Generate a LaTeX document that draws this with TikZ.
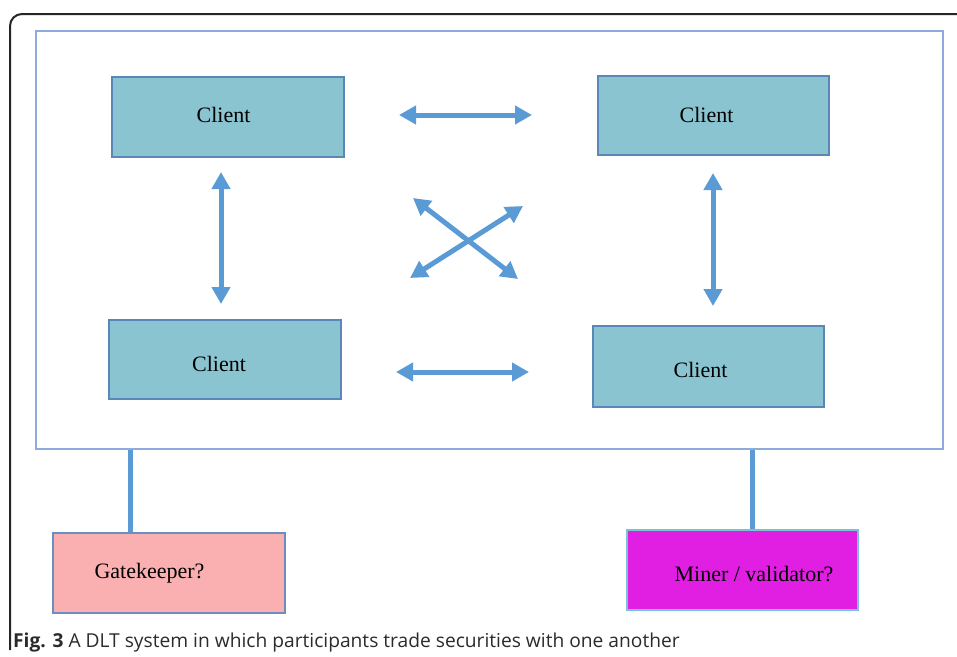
\documentclass[tikz,border=0pt]{standalone}
\usepackage{fontspec}
\setmainfont{Liberation Serif}
\newfontfamily\capfont{Open Sans}
\usetikzlibrary{arrows.meta}
\definecolor{clientfill}{HTML}{8AC4D1}
\definecolor{clientborder}{HTML}{5B87B8}
\definecolor{arrowblue}{HTML}{5B9BD5}
\definecolor{frameblue}{HTML}{8FAADC}
\definecolor{gkfill}{HTML}{FAB0B0}
\definecolor{gkborder}{HTML}{6C8EBF}
\definecolor{minerfill}{HTML}{E11FE3}
\definecolor{minerborder}{HTML}{7AC3D6}
\definecolor{captext}{HTML}{2B2B2B}
\tikzset{
  box/.style={rectangle, inner sep=0pt, line width=1.2pt},
  clientbox/.style={box, draw=clientborder, fill=clientfill, minimum width=232pt, minimum height=80pt},
  gkbox/.style={box, draw=gkborder, fill=gkfill, minimum width=232pt, minimum height=80pt},
  minerbox/.style={box, draw=minerborder, fill=minerfill, minimum width=231pt, minimum height=80pt},
  lbl/.style={inner sep=0pt, font=\fontsize{22}{26}\selectfont},
  dblarrow/.style={line width=5pt, draw=arrowblue,
    {Triangle[length=17pt,width=18pt]}-{Triangle[length=17pt,width=18pt]}},
  link/.style={line width=5pt, draw=arrowblue},
}
\begin{document}
\begin{tikzpicture}[x=1pt,y=-1pt]
\useasboundingbox (0,0) rectangle (957,656);
% outer frame
\draw[line width=2pt, draw=black!85, rounded corners=12pt] (10,650) -- (10,14) -- (957,14);
% system frame
\node[draw=frameblue, line width=1.3pt, rectangle, inner sep=0pt, minimum width=907pt, minimum height=418pt] (sys) at (489.5,240) {};
% clients
\node[clientbox] (c1) at (228,117) {};
\node[lbl] at ([shift={(-4.5,-2)}]c1.center) {Client};
\node[clientbox, minimum width=231pt, minimum height=79pt] (c2) at (713.5,115.5) {};
\node[lbl] at ([shift={(-7,-0.5)}]c2.center) {Client};
\node[clientbox, minimum height=79pt] (c3) at (225,359.5) {};
\node[lbl] at ([shift={(-6,4)}]c3.center) {Client};
\node[clientbox, minimum width=231pt, minimum height=81pt] (c4) at (708.5,366.5) {};
\node[lbl] at ([shift={(-8,3)}]c4.center) {Client};
% arrow end points
\coordinate (h1a) at (399,115); \coordinate (h1b) at (532,115);
\coordinate (h2a) at (396,372); \coordinate (h2b) at (529,372);
\coordinate (v1a) at (221,172); \coordinate (v1b) at (221,304);
\coordinate (v2a) at (713,173); \coordinate (v2b) at (713,306);
\coordinate (d1a) at (413,198); \coordinate (d1b) at (518,279);
\coordinate (d2a) at (410,278); \coordinate (d2b) at (523,206);
\draw[dblarrow] (h1a) -- (h1b);
\draw[dblarrow] (h2a) -- (h2b);
\draw[dblarrow] (v1a) -- (v1b);
\draw[dblarrow] (v2a) -- (v2b);
\draw[dblarrow] (d1a) -- (d1b);
\draw[dblarrow] (d2a) -- (d2b);
% gatekeeper and miner
\node[gkbox] (gk) at (169,573) {};
\node[lbl] at ([shift={(-19.5,0)}]gk.center) {Gatekeeper?};
\node[minerbox] (mv) at (742.5,570) {};
\node[lbl] at ([shift={(11.5,4)}]mv.center) {Miner / validator?};
\coordinate (gx) at (130,0);
\coordinate (mx) at (752,0);
\draw[link] (sys.south -| gx) -- (gk.north -| gx);
\draw[link] (sys.south -| mx) -- (mv.north -| mx);
% caption
\node[anchor=base west, inner sep=0pt, text=captext, font=\capfont\fontsize{19.2}{22}\selectfont] (cap) at (13,647) {\textbf{Fig. 3} A DLT system in which participants trade securities with one another};
\end{tikzpicture}
\end{document}
